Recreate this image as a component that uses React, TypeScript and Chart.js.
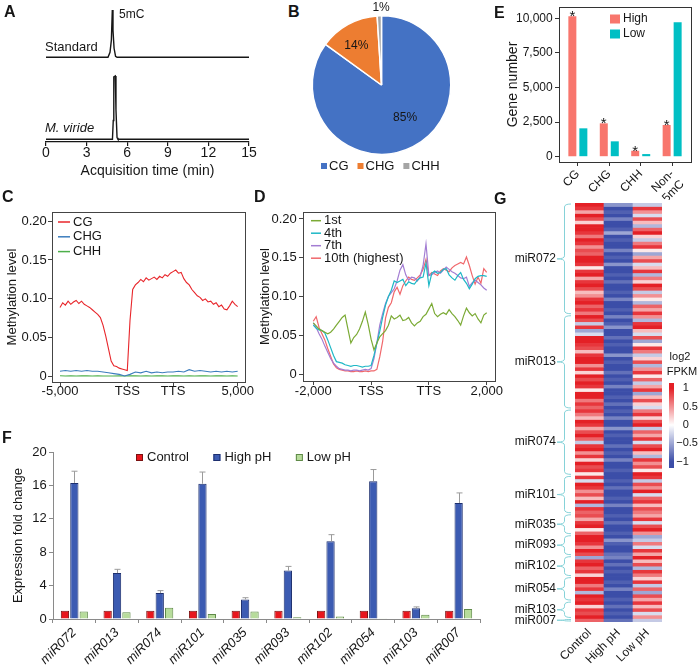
import React, { useEffect, useRef } from "react";
import { Chart, registerables } from "chart.js";

Chart.register(...registerables);

const FONT = "'Liberation Sans', Arial, Helvetica, sans-serif";
const INK = "#161616";
Chart.defaults.font.family = FONT;
Chart.defaults.color = INK;

/* ---------------- Panel A: chromatograms ---------------- */
const aTimeTicks = [0, 3, 6, 9, 12, 15];
const aStandardTime = [0, 4.58, 4.73, 4.83, 4.9, 4.95, 5.03, 5.14, 5.25, 15];
const aStandardSignal = [0, 0, 0.06, 0.21, 0.577, 0.33, 0.11, 0.012, 0, 0];
const aSampleTime = [0, 4.91, 4.97, 5.01, 5.12, 5.17, 5.25, 5.32, 15];
const aSampleSignal = [0, 0, 0.23, 0.76, 0.772, 0.36, 0.02, 0, 0];
const aStandardOffset = 1;

/* ---------------- Panel B: pie ---------------- */
const bLabels = ["CG", "CHG", "CHH"];
const bValues = [85, 14, 1];
const bColors = ["#4472C4", "#ED7D31", "#A5A5A5"];

/* ---------------- Panel C: methylation profile ---------------- */
const cTickPos = [0, 100, 168, 264];
const cTickLabels = ["-5,000", "TSS", "TTS", "5,000"];
const cStepCG = 4;
const cStepCHG = 8;
const cCG = [
  0.089, 0.095, 0.092, 0.097, 0.093, 0.096, 0.098, 0.094, 0.097, 0.093,
  0.091, 0.089, 0.086, 0.083, 0.080, 0.076, 0.066, 0.052, 0.036, 0.020,
  0.014, 0.013, 0.011, 0.010, 0.009, 0.008, 0.072, 0.112, 0.118, 0.121,
  0.125, 0.122, 0.127, 0.124, 0.126, 0.128, 0.125, 0.129, 0.127, 0.131,
  0.129, 0.133, 0.135, 0.137, 0.133, 0.134, 0.126, 0.121, 0.118, 0.112,
  0.108, 0.104, 0.102, 0.098, 0.100, 0.096, 0.097, 0.093, 0.095, 0.090,
  0.092, 0.087, 0.086, 0.091, 0.097, 0.093, 0.090,
];
const cCHG = [
  0.007, 0.008, 0.007, 0.008, 0.007, 0.008, 0.007, 0.007, 0.006, 0.005,
  0.004, 0.003, 0.001, 0.003, 0.006, 0.005, 0.007, 0.005, 0.006, 0.005,
  0.006, 0.006, 0.007, 0.006, 0.009, 0.007, 0.008, 0.007, 0.006, 0.007,
  0.006, 0.007, 0.006, 0.007,
];
const cCHH = [
  0.0012, 0.0010, 0.0011, 0.0010, 0.0012, 0.0011, 0.0010, 0.0011, 0.0010, 0.0009,
  0.0010, 0.0011, 0.0010, 0.0012, 0.0011, 0.0010, 0.0011, 0.0010, 0.0012, 0.0011,
  0.0010, 0.0011, 0.0012, 0.0010, 0.0011, 0.0010, 0.0012, 0.0011, 0.0010, 0.0011,
  0.0012, 0.0010, 0.0011, 0.0010,
];

/* ---------------- Panel D: expression groups ---------------- */
const dTickPos = [0, 100, 200, 300];
const dTickLabels = ["-2,000", "TSS", "TTS", "2,000"];
const dStep = 5;
const d1st = [
  0.066, 0.062, 0.058, 0.056, 0.054, 0.052, 0.054, 0.058, 0.063, 0.068,
  0.073, 0.076, 0.058, 0.040, 0.047, 0.051, 0.058, 0.068, 0.080, 0.064,
  0.045, 0.031, 0.040, 0.048, 0.052, 0.056, 0.063, 0.075, 0.071, 0.073,
  0.076, 0.069, 0.070, 0.073, 0.066, 0.062, 0.066, 0.068, 0.074, 0.077,
  0.084, 0.091, 0.078, 0.074, 0.077, 0.079, 0.077, 0.083, 0.078, 0.074,
  0.069, 0.063, 0.075, 0.085, 0.079, 0.075, 0.078, 0.071, 0.066, 0.076,
  0.079,
];
const d4th = [
  0.063, 0.059, 0.057, 0.056, 0.053, 0.044, 0.034, 0.024, 0.016, 0.015,
  0.014, 0.012, 0.011, 0.010, 0.011, 0.011, 0.010, 0.009, 0.010, 0.010,
  0.011, 0.024, 0.040, 0.055, 0.073, 0.089, 0.100, 0.108, 0.120, 0.118,
  0.120, 0.122, 0.114, 0.119, 0.117, 0.116, 0.121, 0.124, 0.125, 0.143,
  0.114, 0.130, 0.133, 0.130, 0.131, 0.135, 0.136, 0.128, 0.124, 0.121,
  0.127, 0.131, 0.122, 0.117, 0.110, 0.116, 0.123, 0.126, 0.127, 0.127,
  0.126,
];
const d7th = [
  0.066, 0.060, 0.052, 0.045, 0.036, 0.028, 0.020, 0.014, 0.010, 0.007,
  0.006, 0.005, 0.005, 0.004, 0.005, 0.005, 0.004, 0.005, 0.006, 0.005,
  0.007, 0.020, 0.040, 0.063, 0.078, 0.091, 0.100, 0.105, 0.110, 0.120,
  0.134, 0.141, 0.128, 0.121, 0.125, 0.124, 0.120, 0.126, 0.140, 0.168,
  0.127, 0.128, 0.131, 0.133, 0.130, 0.134, 0.138, 0.135, 0.132, 0.130,
  0.127, 0.124, 0.123, 0.125, 0.113, 0.118, 0.121, 0.118, 0.115, 0.111,
  0.108,
];
const d10th = [
  0.068, 0.074, 0.060, 0.052, 0.044, 0.033, 0.023, 0.013, 0.008, 0.006,
  0.005, 0.004, 0.004, 0.003, 0.003, 0.004, 0.003, 0.003, 0.004, 0.003,
  0.004, 0.004, 0.006, 0.022, 0.042, 0.072, 0.086, 0.092, 0.106, 0.112,
  0.103, 0.114, 0.120, 0.125, 0.122, 0.121, 0.124, 0.128, 0.135, 0.148,
  0.127, 0.131, 0.129, 0.127, 0.133, 0.136, 0.134, 0.132, 0.137, 0.140,
  0.142, 0.144, 0.142, 0.151, 0.140, 0.127, 0.116, 0.125, 0.117, 0.136,
  0.131,
];
const methTicks = [0, 0.05, 0.1, 0.15, 0.2];

/* ---------------- Panel E: gene numbers ---------------- */
const eCategories: any[] = ["CG", "CHG", "CHH", ["Non-", "5mC"]];
const eHigh = [10150, 2410, 430, 2290];
const eLow = [2050, 1110, 190, 9710];
const eSignificant = [true, true, true, true];
const eTicks = [0, 2500, 5000, 7500, 10000];
const eCatPos = [1, 2, 3, 4];

/* ---------------- Panel F: qPCR ---------------- */
const fCategories = ["miR072", "miR013", "miR074", "miR101", "miR035", "miR093", "miR102", "miR054", "miR103", "miR007"];
const fControl = [1, 1, 1, 1, 1, 1, 1, 1, 1, 1];
const fHigh = [16.3, 5.5, 3.1, 16.2, 2.35, 5.8, 9.3, 16.5, 1.3, 13.9];
const fHighErr = [1.4, 0.45, 0.3, 1.4, 0.2, 0.5, 0.8, 1.4, 0.15, 1.2];
const fLow = [0.9, 0.8, 1.35, 0.6, 0.9, 0.2, 0.3, 0.1, 0.5, 1.2];

/* ---------------- Panel G: heatmap ---------------- */
const gColumns = ["Control", "High pH", "Low pH"];
const gNames = ["miR072", "miR013", "miR074", "miR101", "miR035", "miR093", "miR102", "miR054", "miR103", "miR007"];
const gSizes = [32, 27, 19, 11, 6, 6, 6, 7, 5, 1];
const gControl = [
  1, 0.9, 0.4, 1, 0.8, 0.2, 1, 1, 0.9, 0.6, 1, 0.9, 0.5, 0.8, 0.7, 1,
  1, 0.9, 0.1, 0.9, 1, 0.4, 0.9, 1, 0.8, 0.3, 0.5, 0.9, 1, 0.7, 0.9, 0.6,
  1, 0.8, -0.3, 0.9, -0.5, -0.2, 1, 1, 0.9, 0.8, 0.3, 0.9, 1, 1, 0.5, 0.9, 0.2, 1, 0.8, 1, 0.9, 0.1, 1, 1, 0.6, 0.9, 0.7,
  0.9, 0.6, 0.3, 1, 0.9, 0.4, 0.8, 1, 0.7, -0.3, 0.9, 1, 0.5, 0.9, 0.2, 1, 0.8, 0.9, 0.1,
  0.9, -0.2, 1, 0.9, 0.5, 0.8, 0.3, 1, -0.4, 0.9, 0.7,
  0.8, 0.4, 0.9, 1, 0.1, 0.7,
  1, 1, 0.9, 0.5, 1, 0.8,
  -0.5, 0.9, 1, 0.7, 0.9, 0.2,
  1, 1, 0.6, 0.9, -0.4, 1, 0.9,
  1, 0.2, 0.9, 0.8, 1,
  0.7,
];
const gHigh = [
  -0.6, -1, -0.9, -1, -0.7, -1, -1, -0.9, -0.5, -1, -0.9, -1, -1, -0.7, -1, -0.9,
  -1, -0.6, -1, -1, -0.9, -1, -0.8, -1, -1, -0.9, -1, -0.7, -1, -1, -0.9, -1,
  -0.7, -1, -0.9, -0.6, -1, -1, -0.8, -1, -0.9, -1, -1, -0.6, -1, -0.9, -1, -1, -0.8, -1, -0.9, -1, -0.7, -1, -1, -0.9, -1, -0.8, -1,
  -0.9, -1, -0.7, -1, -1, -0.6, -1, -0.9, -1, -1, -0.8, -1, -0.9, -1, -0.7, -1, -1, -0.9, -1,
  -1, -0.9, -1, -0.8, -1, -1, -0.9, -1, -0.7, -1, -1,
  -0.9, -1, -0.8, -1, -1, -0.9,
  -1, -0.6, -0.9, -1, -1, -0.8,
  -0.7, -1, -0.8, -1, -0.9, -1,
  -1, -0.9, -1, -0.7, -1, -1, -0.9,
  -1, -0.8, -1, -0.9, -1,
  -0.8,
];
const gLow = [
  -0.3, 0.9, 0.5, -0.2, 0.8, 0.3, -0.4, 0.7, 1, 0.2, -0.3, 0.6, 0.9, 0.1, -0.5, 0.4,
  0.8, -0.2, 0.3, 0.9, -0.4, 0.6, 0.2, 1, 0.8, -0.3, 0.5, 0.1, -0.4, 0.7, 0.4, 0.9,
  0.5, -0.4, 0.9, 1, 0.3, -0.2, 0.8, -0.5, 0.1, 0.9, 0.6, -0.3, 0.2, 0.8, -0.4, 0.5, 0.9, 0.1, 0.7, -0.3, 0.4, 0.9, -0.5, 0.3, 0.8, 0.2, -0.2,
  0.6, 0.9, 0.2, 0.8, 1, -0.3, 0.7, 0.4, 0.9, -0.2, 0.8, 1, 0.3, -0.4, 0.9, 0.5, 0.8, 0.1, 1,
  0.9, -0.3, 0.8, 0.5, 1, -0.2, 0.7, 0.9, 0.3, 0.8, 0.6,
  0.4, 0.9, -0.2, 0.8, 1, 0.5,
  -0.5, -0.3, 0.6, -0.2, 0.9, 0.4,
  1, 0.3, 0.8, -0.4, 0.9, 0.6,
  0.2, 0.9, -0.3, 0.7, -0.5, 0.8, 0.4,
  0.9, 0.3, 0.8, -0.2, 0.5,
  -0.3,
];
const gScaleTicks = [1, 0.5, 0, -0.5, -1];

/* ---------------- helpers ---------------- */
const HI = [228, 32, 38];
const MID = [255, 255, 255];
const LO = [60, 78, 168];
function heatColor(v: number) {
  const t = Math.max(-1, Math.min(1, v));
  const target = t >= 0 ? HI : LO;
  const f = Math.abs(t);
  const c = MID.map((m, i) => Math.round(m + (target[i] - m) * f));
  return `rgb(${c[0]},${c[1]},${c[2]})`;
}

const fixTicks = (vals: number[]) => (s: any) => {
  s.ticks = vals.map((v) => ({ value: v }));
};
const fitW = (w: number) => (s: any) => {
  s.width = w;
  s.paddingTop = 0;
  s.paddingBottom = 0;
};
const fitH = (h: number) => (s: any) => {
  s.height = h;
  s.paddingLeft = 0;
  s.paddingRight = 0;
};
const fmtMeth = (v: any) => (Number(v) === 0 ? "0" : Number(v).toFixed(2));

function base(padding: any, scales: any, plugins: any) {
  return {
    animation: false,
    responsive: false,
    maintainAspectRatio: false,
    devicePixelRatio: 1,
    events: [],
    layout: { padding },
    scales,
    plugins: { legend: { display: false }, tooltip: { enabled: false }, ...plugins },
  };
}

const inLegend = {
  id: "inLegend",
  afterDraw(chart: any, _args: any, o: any) {
    if (!o || !o.enabled) return;
    const ctx = chart.ctx;
    const size = o.size || 12;
    let items: any[];
    if (o.fromLabels) {
      const ds = chart.data.datasets[0];
      items = chart.data.labels.map((l: any, i: number) => ({ text: String(l), fill: ds.backgroundColor[i], stroke: null }));
    } else {
      items = chart.data.datasets.map((ds: any) => ({
        text: ds.label,
        fill: o.marker === "line" ? ds.borderColor : ds.backgroundColor,
        stroke: o.boxBorder ? ds.borderColor : null,
      }));
    }
    ctx.save();
    ctx.font = `${size}px ${FONT}`;
    ctx.textBaseline = "middle";
    ctx.textAlign = "left";
    let x = o.x;
    let y = o.y;
    for (const it of items) {
      let tx;
      if (o.marker === "line") {
        ctx.strokeStyle = it.fill;
        ctx.lineWidth = o.lineWidth || 1.5;
        ctx.beginPath();
        ctx.moveTo(x, y);
        ctx.lineTo(x + o.lineLen, y);
        ctx.stroke();
        tx = x + o.lineLen + o.textGap;
      } else {
        ctx.fillStyle = it.fill;
        ctx.fillRect(x, y - o.boxH / 2, o.boxW, o.boxH);
        if (it.stroke) {
          ctx.strokeStyle = it.stroke;
          ctx.lineWidth = 1;
          ctx.strokeRect(x + 0.5, y - o.boxH / 2 + 0.5, o.boxW - 1, o.boxH - 1);
        }
        tx = x + o.boxW + o.textGap;
      }
      ctx.fillStyle = INK;
      ctx.fillText(it.text, tx, y);
      if (o.horizontal) x = tx + ctx.measureText(it.text).width + o.gap;
      else y += o.rowH;
    }
    ctx.restore();
  },
};
Chart.register(inLegend);

const framePlugin = (color: string) => ({
  id: "frame",
  afterDraw(chart: any) {
    const { left, top, right, bottom } = chart.chartArea;
    const ctx = chart.ctx;
    ctx.save();
    ctx.strokeStyle = color;
    ctx.lineWidth = 1;
    ctx.strokeRect(Math.round(left) + 0.5, Math.round(top) + 0.5, Math.round(right - left), Math.round(bottom - top));
    ctx.restore();
  },
});

const pieLabelPlugin = {
  id: "pieLabels",
  afterDatasetsDraw(chart: any) {
    const turn = [-9, -4, 1.5];
    const dist = [0.58, 0.67, 1.11];
    const meta = chart.getDatasetMeta(0);
    const ctx = chart.ctx;
    ctx.save();
    ctx.font = `12px ${FONT}`;
    ctx.fillStyle = INK;
    ctx.textAlign = "center";
    ctx.textBaseline = "middle";
    meta.data.forEach((arc: any, i: number) => {
      const a = (arc.startAngle + arc.endAngle) / 2 + (turn[i] * Math.PI) / 180;
      const r = arc.outerRadius * dist[i];
      ctx.fillText(`${bValues[i]}%`, arc.x + Math.cos(a) * r, arc.y + Math.sin(a) * r);
    });
    ctx.restore();
  },
};

const eStarsPlugin = {
  id: "eStars",
  afterDatasetsDraw(chart: any) {
    const meta = chart.getDatasetMeta(0);
    const ctx = chart.ctx;
    ctx.save();
    ctx.font = `15px ${FONT}`;
    ctx.fillStyle = INK;
    ctx.textAlign = "center";
    ctx.textBaseline = "alphabetic";
    meta.data.forEach((bar: any, i: number) => {
      if (eSignificant[i]) ctx.fillText("*", bar.x, bar.y + 5);
    });
    ctx.restore();
  },
};

const fErrorPlugin = {
  id: "fErr",
  afterDatasetsDraw(chart: any) {
    const meta = chart.getDatasetMeta(1);
    const ys = chart.scales.y;
    const ctx = chart.ctx;
    ctx.save();
    ctx.strokeStyle = "#9b9b9b";
    ctx.lineWidth = 1;
    meta.data.forEach((bar: any, i: number) => {
      const x = Math.round(bar.x) + 0.5;
      const yTop = ys.getPixelForValue(fHigh[i] + fHighErr[i]);
      const yBar = ys.getPixelForValue(fHigh[i]);
      ctx.beginPath();
      ctx.moveTo(x, yBar);
      ctx.lineTo(x, yTop);
      ctx.moveTo(x - 3, yTop);
      ctx.lineTo(x + 3, yTop);
      ctx.stroke();
    });
    ctx.restore();
  },
};

const gDecorPlugin = {
  id: "gDecor",
  afterDraw(chart: any) {
    const ctx = chart.ctx;
    const ys = chart.scales.y;
    ctx.save();
    // brackets
    ctx.strokeStyle = "#86d2d8";
    ctx.lineWidth = 1;
    const xv = 74.5;
    const xr = 81;
    const xt = 67;
    let start = 0;
    gSizes.forEach((n) => {
      const y0 = ys.getPixelForValue(start) + 1;
      const y1 = ys.getPixelForValue(start + n) - 1;
      const ym = (y0 + y1) / 2;
      const c = Math.min(3, (y1 - y0) / 4);
      ctx.beginPath();
      ctx.moveTo(xr, y0);
      ctx.quadraticCurveTo(xv, y0, xv, y0 + c);
      ctx.lineTo(xv, ym - c);
      ctx.quadraticCurveTo(xv, ym, xt, ym);
      ctx.quadraticCurveTo(xv, ym, xv, ym + c);
      ctx.lineTo(xv, y1 - c);
      ctx.quadraticCurveTo(xv, y1, xr, y1);
      ctx.stroke();
      start += n;
    });
    // colour bar
    const cbX = 179;
    const cbW = 5;
    const cbTop = 188;
    const cbBot = 273;
    const yPos1 = 193.3;
    const yNeg1 = 266.7;
    const yOf = (v: number) => yPos1 + ((1 - v) / 2) * (yNeg1 - yPos1);
    const grad = ctx.createLinearGradient(0, cbTop, 0, cbBot);
    grad.addColorStop(0, heatColor(1));
    gScaleTicks.forEach((v) => grad.addColorStop((yOf(v) - cbTop) / (cbBot - cbTop), heatColor(v)));
    grad.addColorStop(1, heatColor(-1));
    ctx.fillStyle = grad;
    ctx.fillRect(cbX, cbTop, cbW, cbBot - cbTop);
    ctx.font = `11px ${FONT}`;
    ctx.fillStyle = INK;
    ctx.textBaseline = "middle";
    ctx.textAlign = "left";
    const lx = 192.7;
    gScaleTicks.forEach((v) => {
      const txt = String(Math.abs(v));
      if (v < 0) {
        const mw = ctx.measureText("\u2212").width;
        ctx.fillText("\u2212" + txt, lx - mw, yOf(v));
      } else {
        ctx.fillText(txt, lx, yOf(v));
      }
    });
    ctx.textAlign = "center";
    ctx.fillText("log2", 190, 162);
    ctx.fillText("FPKM", 192, 177);
    ctx.restore();
  },
};

/* ---------------- chart configs ---------------- */
const makeA = () => ({
  type: "line",
  data: {
    datasets: [
      {
        label: "Standard",
        data: aStandardTime.map((t, i) => ({ x: t, y: aStandardSignal[i] + aStandardOffset })),
        borderColor: INK,
        borderWidth: 1.4,
        pointRadius: 0,
      },
      {
        label: "M. viride",
        data: aSampleTime.map((t, i) => ({ x: t, y: aSampleSignal[i] })),
        borderColor: INK,
        borderWidth: 1.4,
        pointRadius: 0,
      },
    ],
  },
  options: base(
    { left: 46, right: 16, top: 5, bottom: 0 },
    {
      x: {
        type: "linear",
        min: 0,
        max: 15,
        afterBuildTicks: fixTicks(aTimeTicks),
        ticks: { font: { size: 14 }, padding: -1, maxRotation: 0, autoSkip: false, color: INK },
        grid: { drawOnChartArea: false, tickLength: 4, color: INK, lineWidth: 1.2 },
        border: { display: true, color: INK, width: 1.2 },
        title: { display: true, text: "Acquisition time (min)", font: { size: 14 }, padding: { top: 0, bottom: 0 }, color: INK },
        afterFit: fitH(38),
      },
      y: { display: false, min: -0.033, max: 1.638 },
    },
    {}
  ),
});

const makeB = () => ({
  type: "pie",
  data: {
    labels: bLabels,
    datasets: [{ data: bValues, backgroundColor: bColors, borderColor: "#ffffff", borderWidth: 1.5 }],
  },
  options: base(
    { left: 5, right: 5, top: 15, bottom: 20 },
    {},
    { inLegend: { enabled: true, fromLabels: true, marker: "box", horizontal: true, x: 15, y: 166, boxW: 6, boxH: 6, textGap: 2, gap: 9, size: 13 } }
  ),
  plugins: [pieLabelPlugin],
});

const methY = (min: number, max: number, pad: number, titlePad: number, width: number) => ({
  min,
  max,
  afterBuildTicks: fixTicks(methTicks),
  ticks: { font: { size: 13 }, padding: pad, callback: fmtMeth, autoSkip: false },
  grid: { drawOnChartArea: false, tickLength: 4, color: "#444" },
  border: { display: false },
  title: { display: true, text: "Methylation level", font: { size: 13 }, padding: { top: titlePad, bottom: 0 } },
  afterFit: fitW(width),
});

const makeC = () => ({
  type: "line",
  data: {
    datasets: [
      { label: "CG", data: cCG.map((v, i) => ({ x: i * cStepCG, y: v })), borderColor: "#E8262B", borderWidth: 1.1, pointRadius: 0 },
      { label: "CHG", data: cCHG.map((v, i) => ({ x: i * cStepCHG, y: v })), borderColor: "#3C7DBD", borderWidth: 1.1, pointRadius: 0 },
      { label: "CHH", data: cCHH.map((v, i) => ({ x: i * cStepCHG, y: v })), borderColor: "#4DAF4A", borderWidth: 1.1, pointRadius: 0 },
    ],
  },
  options: base(
    { left: 0, right: 17, top: 27, bottom: 0 },
    {
      x: {
        type: "linear",
        min: -11.9,
        max: 274.9,
        afterBuildTicks: fixTicks(cTickPos),
        ticks: { font: { size: 13 }, padding: -2, maxRotation: 0, autoSkip: false, callback: (v: any) => cTickLabels[cTickPos.indexOf(v)] },
        grid: { drawOnChartArea: false, tickLength: 4, color: "#444" },
        border: { display: false },
        afterFit: fitH(23),
      },
      y: methY(-0.0068, 0.2116, 1.3, 4.7, 52),
    },
    { inLegend: { enabled: true, marker: "line", x: 58, y: 37, rowH: 14.8, lineLen: 12, textGap: 3, size: 13, lineWidth: 1.5 } }
  ),
  plugins: [framePlugin("#444")],
});

const makeD = () => ({
  type: "line",
  data: {
    datasets: [
      { label: "1st", data: d1st.map((v, i) => ({ x: i * dStep, y: v })), borderColor: "#7BAA35", borderWidth: 1.2, pointRadius: 0 },
      { label: "4th", data: d4th.map((v, i) => ({ x: i * dStep, y: v })), borderColor: "#1EB8C6", borderWidth: 1.2, pointRadius: 0 },
      { label: "7th", data: d7th.map((v, i) => ({ x: i * dStep, y: v })), borderColor: "#A37DD3", borderWidth: 1.2, pointRadius: 0 },
      { label: "10th (highest)", data: d10th.map((v, i) => ({ x: i * dStep, y: v })), borderColor: "#F0686C", borderWidth: 1.2, pointRadius: 0 },
    ],
  },
  options: base(
    { left: 0, right: 17, top: 27, bottom: 0 },
    {
      x: {
        type: "linear",
        min: -17.8,
        max: 314.4,
        afterBuildTicks: fixTicks(dTickPos),
        ticks: { font: { size: 13 }, padding: -1, maxRotation: 0, autoSkip: false, callback: (v: any) => dTickLabels[dTickPos.indexOf(v)] },
        grid: { drawOnChartArea: false, tickLength: 4, color: "#444" },
        border: { display: false },
        afterFit: fitH(24),
      },
      y: methY(-0.009, 0.209, 2.3, 7.2, 53),
    },
    { inLegend: { enabled: true, marker: "line", x: 61, y: 35.7, rowH: 12.5, lineLen: 10, textGap: 3, size: 13, lineWidth: 1.5 } }
  ),
  plugins: [framePlugin("#444")],
});

const makeE = () => ({
  type: "bar",
  data: {
    datasets: [
      { label: "High", data: eHigh.map((v, i) => ({ x: eCatPos[i], y: v })), backgroundColor: "#F8766D" },
      { label: "Low", data: eLow.map((v, i) => ({ x: eCatPos[i], y: v })), backgroundColor: "#00BFC4" },
    ],
  },
  options: {
    ...base(
      { left: 30, right: 9, top: 7, bottom: 0 },
      {
        x: {
          type: "linear",
          offset: false,
          min: 0.4,
          max: 4.6,
          afterBuildTicks: fixTicks(eCatPos),
          ticks: { font: { size: 12 }, minRotation: 45, maxRotation: 45, padding: 1, autoSkip: false, callback: (v: any) => eCategories[eCatPos.indexOf(v)] },
          grid: { drawOnChartArea: false, tickLength: 4, color: "#333", offset: false },
          border: { display: false },
          afterFit: fitH(38),
        },
        y: {
          min: -383,
          max: 10816,
          afterBuildTicks: fixTicks(eTicks),
          ticks: { font: { size: 12 }, padding: 2.3, autoSkip: false, callback: (v: any) => Number(v).toLocaleString("en-US") },
          grid: { drawOnChartArea: false, tickLength: 4, color: "#333" },
          border: { display: false },
          title: { display: true, text: "Gene number", font: { size: 14 }, padding: { top: 4.6, bottom: 0 } },
          afterFit: fitW(59),
        },
      },
      { inLegend: { enabled: true, marker: "box", x: 140, y: 19, rowH: 15, boxW: 10, boxH: 9, textGap: 3, size: 12 } }
    ),
    datasets: { bar: { categoryPercentage: 0.7, barPercentage: 0.727 } },
  },
  plugins: [framePlugin("#333"), eStarsPlugin],
});

const makeF = () => ({
  type: "bar",
  data: {
    labels: fCategories,
    datasets: [
      { label: "Control", data: fControl, backgroundColor: "#E8161D", borderColor: "#7A1111", borderWidth: 1 },
      { label: "High pH", data: fHigh, backgroundColor: "#3C5BB2", borderColor: "#1D2F6E", borderWidth: 1 },
      { label: "Low pH", data: fLow, backgroundColor: "#B7DC9B", borderColor: "#5F8A48", borderWidth: 1 },
    ],
  },
  options: {
    ...base(
      { left: 0, right: 10, top: 12, bottom: 0 },
      {
        x: {
          ticks: { font: { size: 13, style: "italic" }, minRotation: 45, maxRotation: 45, padding: 2, autoSkip: false },
          grid: { drawOnChartArea: false, tickLength: 4, color: "#8a8a8a", offset: true },
          border: { display: true, color: "#8a8a8a" },
          afterFit: fitH(50),
        },
        y: {
          min: 0,
          max: 20,
          ticks: { stepSize: 4, font: { size: 13 }, padding: 2.3 },
          grid: { drawOnChartArea: false, tickLength: 4, color: "#8a8a8a" },
          border: { display: true, color: "#8a8a8a" },
          title: { display: true, text: "Expression fold change", font: { size: 13 }, padding: { top: 10.2, bottom: 0 } },
          afterFit: fitW(53),
        },
      },
      { inLegend: { enabled: true, marker: "box", boxBorder: true, horizontal: true, x: 136, y: 17.5, boxW: 7, boxH: 7, textGap: 4, gap: 24.5, size: 13 } }
    ),
    datasets: { bar: { categoryPercentage: 0.66, barPercentage: 0.88 } },
  },
  plugins: [fErrorPlugin],
});

const gTotal = gSizes.reduce((a, b) => a + b, 0);
const gCenters = gSizes.map((n, i) => gSizes.slice(0, i).reduce((a, b) => a + b, 0) + n / 2);

const makeG = () => ({
  type: "bar",
  data: {
    labels: gColumns,
    datasets: gControl.map((_, r) => ({
      data: [1, 1, 1],
      backgroundColor: [heatColor(gControl[r]), heatColor(gHigh[r]), heatColor(gLow[r])],
      borderWidth: 0,
    })),
  },
  options: {
    ...base(
      { left: 0, right: 38, top: 8, bottom: 0 },
      {
        x: {
          stacked: true,
          ticks: { font: { size: 12 }, minRotation: 45, maxRotation: 45, padding: 4, autoSkip: false },
          grid: { display: false, drawTicks: false },
          border: { display: false },
          afterFit: fitH(47),
        },
        y: {
          stacked: true,
          reverse: true,
          min: 0,
          max: gTotal,
          afterBuildTicks: fixTicks(gCenters),
          ticks: { font: { size: 12 }, padding: 19, autoSkip: false, callback: (v: any) => gNames[gCenters.indexOf(v)] },
          grid: { display: false, drawTicks: false },
          border: { display: false },
          afterFit: fitW(85),
        },
      },
      {}
    ),
    datasets: { bar: { categoryPercentage: 1, barPercentage: 1 } },
  },
  plugins: [gDecorPlugin],
});

/* ---------------- components ---------------- */
function ChartCanvas({ x, y, w, h, make }: any) {
  const ref = useRef<HTMLCanvasElement | null>(null);
  useEffect(() => {
    const chart = new Chart(ref.current as HTMLCanvasElement, make());
    return () => chart.destroy();
  }, []);
  return (
    <canvas
      ref={ref}
      width={w}
      height={h}
      style={{ position: "absolute", left: x, top: y, width: w, height: h, display: "block" }}
    />
  );
}

function T({ x, y, size = 13, bold = false, italic = false, children }: any) {
  return (
    <div
      style={{
        position: "absolute",
        left: x,
        top: y,
        fontSize: size,
        lineHeight: 1,
        fontWeight: bold ? 700 : 400,
        fontStyle: italic ? "italic" : "normal",
        fontFamily: FONT,
        color: INK,
        whiteSpace: "nowrap",
      }}
    >
      {children}
    </div>
  );
}

export default function App() {
  return (
    <div
      style={{
        position: "absolute",
        left: 0,
        top: 0,
        width: 700,
        height: 669,
        background: "#ffffff",
        overflow: "hidden",
        fontFamily: FONT,
      }}
    >
      <ChartCanvas x={0} y={0} w={265} h={180} make={makeA} />
      <ChartCanvas x={306} y={0} w={151} h={175} make={makeB} />
      <ChartCanvas x={470} y={0} w={230} h={200} make={makeE} />
      <ChartCanvas x={0} y={185} w={262} h={220} make={makeC} />
      <ChartCanvas x={250} y={185} w={262} h={220} make={makeD} />
      <ChartCanvas x={0} y={440} w={490} h={229} make={makeF} />
      <ChartCanvas x={490} y={195} w={210} h={474} make={makeG} />

      <T x={119} y={8.4} size={12}>5mC</T>
      <T x={45} y={40}>Standard</T>
      <T x={45} y={120.6} italic>M. viride</T>

      <T x={4} y={4} size={16} bold>A</T>
      <T x={288} y={4} size={16} bold>B</T>
      <T x={2} y={189} size={16} bold>C</T>
      <T x={254} y={189} size={16} bold>D</T>
      <T x={494} y={5} size={16} bold>E</T>
      <T x={2} y={430} size={16} bold>F</T>
      <T x={494} y={191} size={16} bold>G</T>
    </div>
  );
}
